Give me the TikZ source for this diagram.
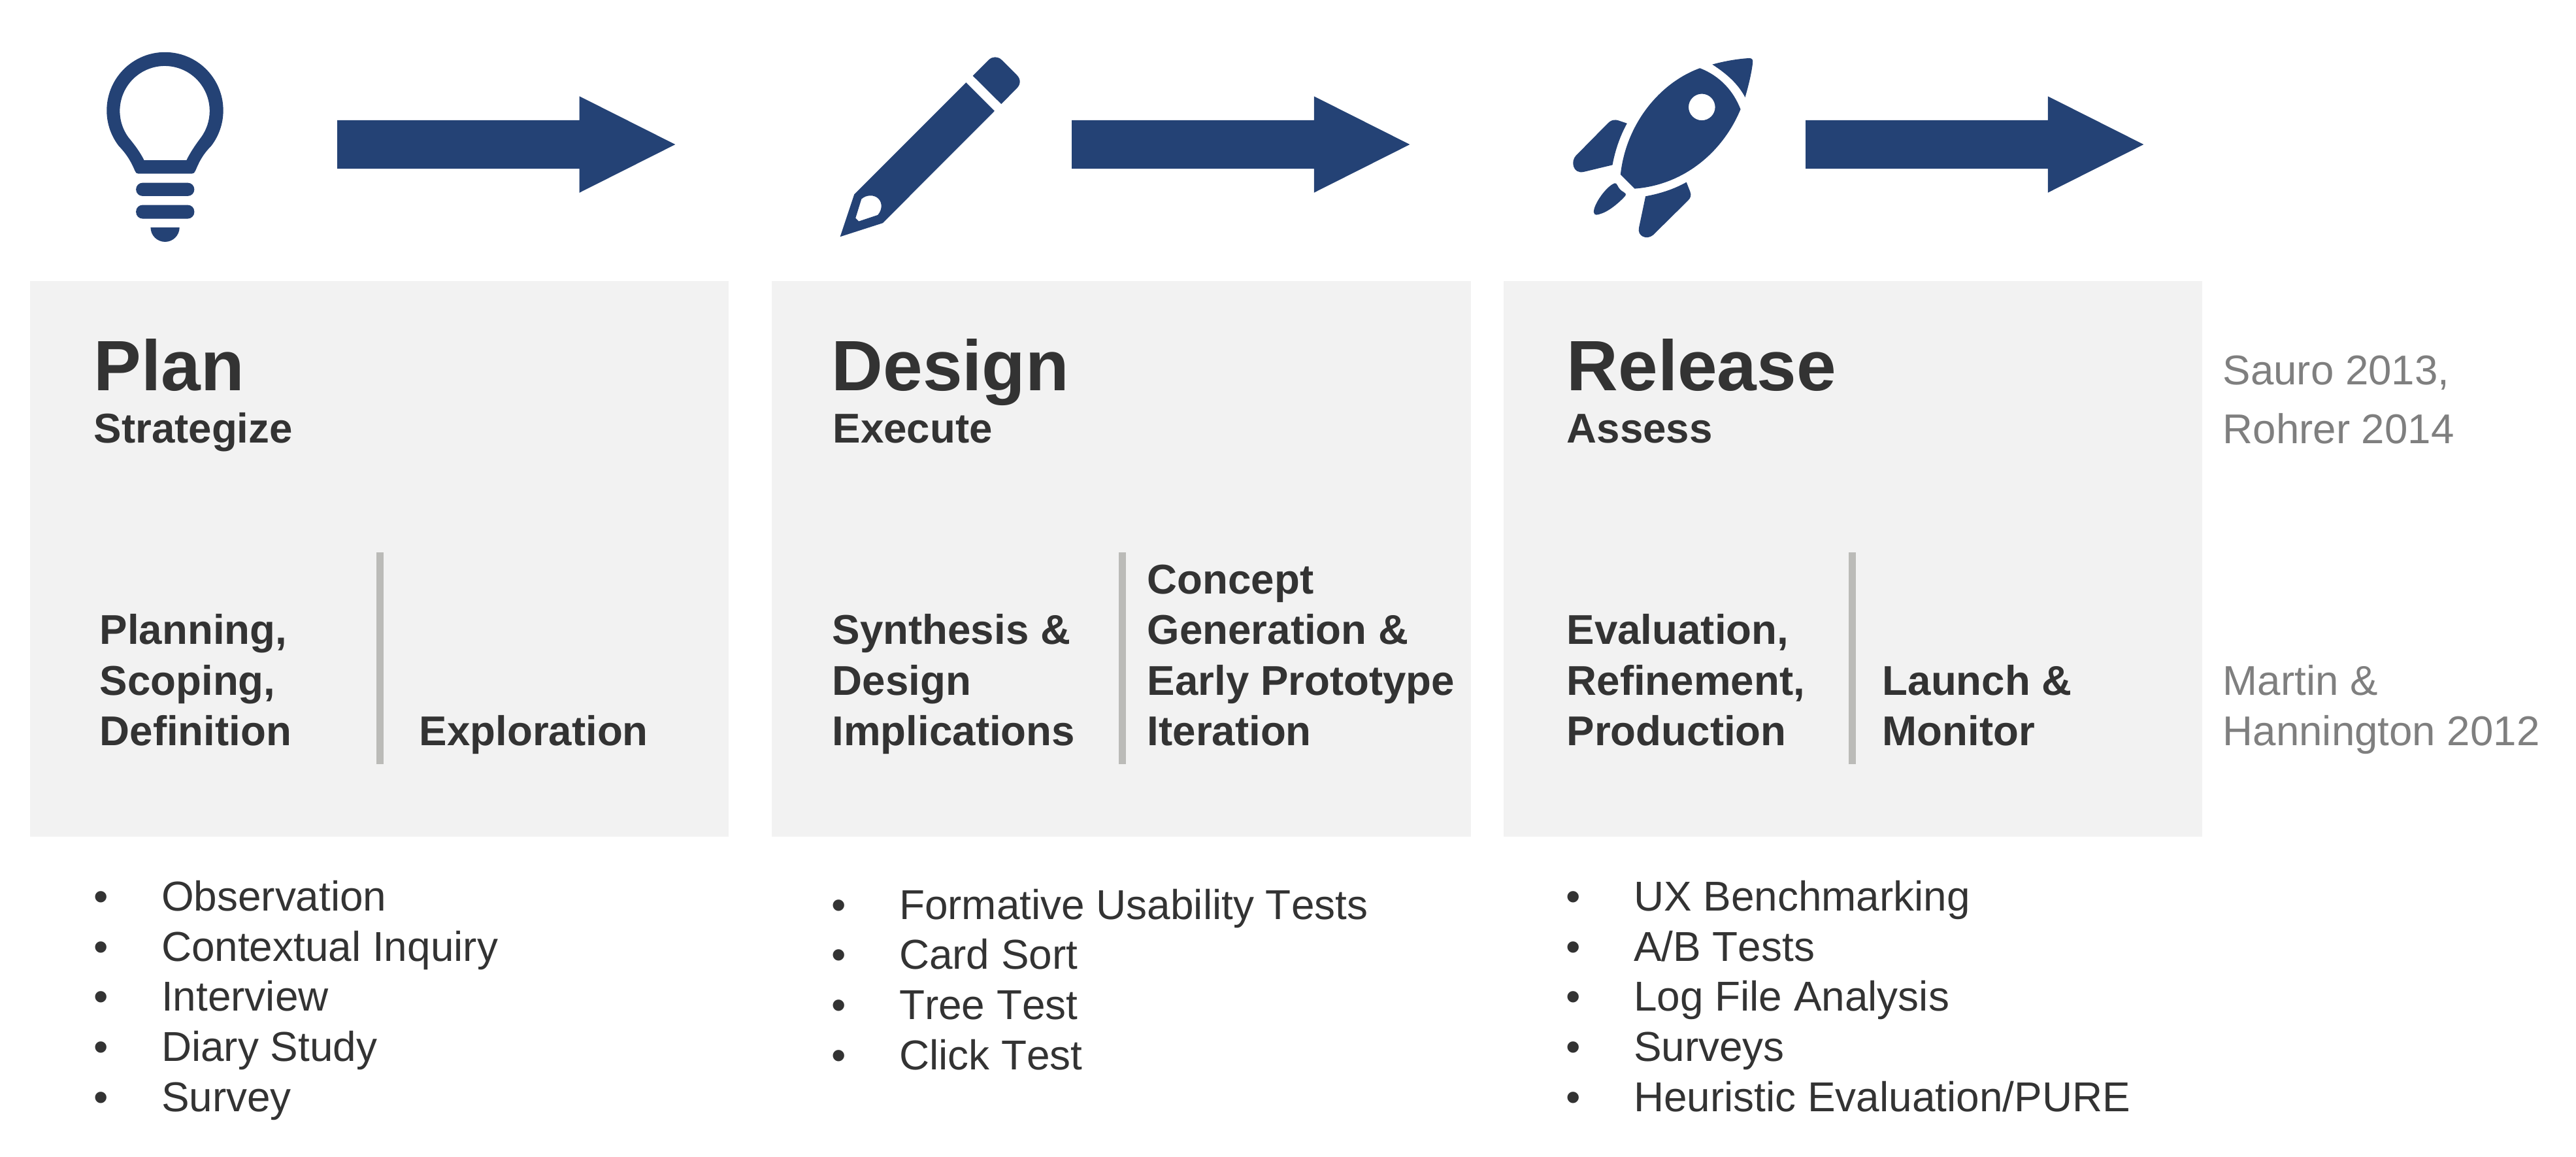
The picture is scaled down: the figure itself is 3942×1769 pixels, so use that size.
\documentclass[tikz,border=0pt]{standalone}
\usepackage{fontspec}
\setmainfont[Kerning=Off]{Liberation Sans}
\usepackage{tikz}
\usetikzlibrary{positioning,shapes.arrows}
\definecolor{navy}{HTML}{244275}
\definecolor{panel}{HTML}{F2F2F2}
\definecolor{rule}{HTML}{BBBBB8}
\definecolor{ink}{HTML}{333333}
\definecolor{cite}{HTML}{7F7F7F}
\newcommand{\bul}{\makebox[29.4pt][l]{•}}
\tikzset{
  phase/.style   = {fill=panel, inner sep=0pt, outer sep=0pt, minimum width=10.69cm,
                    minimum height=8.49cm},
  flow/.style    = {shape=single arrow, fill=navy, inner sep=0pt, outer sep=0pt, minimum height=5.17cm,
                    minimum width=1.46cm, single arrow head extend=0.365cm,
                    single arrow tip angle=53.4, text height=0.73cm},
  divider/.style = {fill=rule, inner sep=0pt, outer sep=0pt, minimum width=0.105cm,
                    minimum height=3.24cm},
  title/.style   = {anchor=base west, inner sep=0pt, text=ink, font=\fontsize{31}{36}\selectfont\bfseries},
  sub/.style     = {anchor=base west, inner sep=0pt, text=ink, align=left,
                    font=\fontsize{18.1}{21.9}\selectfont\bfseries},
  items/.style   = {anchor=base west, inner sep=0pt, text=ink, align=left,
                    font=\fontsize{18.17}{21.8}\selectfont},
  source/.style  = {anchor=base west, inner sep=0pt, text=cite, align=left,
                    font=\fontsize{18.1}{21.9}\selectfont},
  icon/.style    = {fill=navy, even odd rule},
  trace/.style   = {x=0.003333cm, y=-0.003333cm},
}
\begin{document}
\begin{tikzpicture}[x=0.01cm,y=-0.01cm]
  \useasboundingbox (0,0) rectangle (3942,1769);
  % panels
  \node[phase, anchor=north west] (plan) at (45.5,430) {};
  \node[phase, right=0.66cm of plan] (design) {};
  \node[phase, right=0.5cm of design] (release) {};
  % arrows
  \node[flow, anchor=west] (flowa) at (516,221) {};
  \node[flow, anchor=west] (flowb) at (1640,221) {};
  \node[flow, anchor=west] (flowc) at (2763,221) {};
  % bulb
  \begin{scope}[shift={(100,40)},trace]
    \fill[icon] (245,550) arc[start angle=142.7, end angle=397.3, radius=268]
      .. controls (630,592) and (615,625) .. (598,665) .. controls (594,674) and (590,678) .. (582,678)
      -- (335,678) .. controls (327,678) and (324,674) .. (320,665) .. controls (303,625) and (285,592) .. cycle
      (290,511) arc[start angle=144, end angle=396, radius=206.5]
      .. controls (595,550) and (575,580) .. (557,616) -- (362,616) .. controls (344,580) and (322,550) .. cycle;
    \fill[icon, rounded corners=0.1cm] (325,720) rectangle (593,781);
    \fill[icon, rounded corners=0.1cm] (325,822) rectangle (593,885);
    \fill[icon] (392,925) arc[start angle=180, end angle=0, radius=66.5] -- cycle;
  \end{scope}
  % pencil
  \begin{scope}[shift={(1250,60)},trace]
    \fill[icon] (686,199) -- (817,330) -- (303,845) -- (107,908) -- (172,713) -- cycle
      (205,735) .. controls (225,715) and (265,712) .. (285,735) .. controls (302,755) and (300,785) .. (280,808)
      -- (193,837) -- (178,822) -- cycle;
    \fill[icon] (717,168) -- (790,95) .. controls (808,78) and (832,78) .. (850,95) -- (920,165)
      .. controls (938,183) and (938,207) .. (920,225) -- (848,298) -- cycle;
  \end{scope}
  % rocket
  \begin{scope}[shift={(2370,60)},trace]
    \fill[icon] (695,133) .. controls (790,170) and (850,240) .. (882,322)
      .. controls (800,520) and (620,670) .. (395,687) -- (330,622)
      .. controls (355,390) and (510,200) .. (695,133)
      (765,312) arc[start angle=0, end angle=360, radius=61];
    \fill[icon] (752,116) .. controls (810,100) and (870,90) .. (922,87) .. controls (935,87) and (940,95) .. (938,108)
      .. controls (932,160) and (918,215) .. (903,267) .. controls (870,205) and (820,160) .. cycle;
    \fill[icon] (360,387) -- (325,375) .. controls (300,366) and (285,372) .. (270,388) -- (125,535)
      .. controls (100,560) and (110,620) .. (160,610) -- (293,578) .. controls (305,510) and (330,440) .. cycle;
    \fill[icon] (633,657) -- (650,700) .. controls (657,718) and (652,730) .. (640,742) -- (480,900)
      .. controls (450,925) and (405,905) .. (415,865) -- (445,722) .. controls (510,710) and (575,690) .. cycle;
    \fill[icon] (303,662) .. controls (265,675) and (205,760) .. (207,795) .. controls (209,812) and (225,808) .. (240,802)
      .. controls (280,790) and (330,745) .. (352,720) .. controls (357,712) and (352,706) .. (345,703)
      .. controls (330,695) and (322,685) .. (316,672) .. controls (313,664) and (308,661) .. cycle;
  \end{scope}
  % plan panel
  \node[title] (plant) at (143,597) {Plan};
  \node[sub] (plans) at (143,677) {Strategize};
  \node[divider, anchor=north west] (plandiv) at (576,845) {};
  \node[sub] (plana) at (152,1140) {Planning,\\Scoping,\\Definition};
  \node[sub] (planb) at (641,1140) {Exploration};
  % design panel
  \node[title] (designt) at (1272,597) {Design};
  \node[sub] (designs) at (1274,677) {Execute};
  \node[divider, anchor=north west] (designdiv) at (1712,845) {};
  \node[sub] (designa) at (1273,1140) {Synthesis \&\\Design\\Implications};
  \node[sub] (designb) at (1755,1140) {Concept\\Generation \&\\Early Prototype\\Iteration};
  % release panel
  \node[title] (releaset) at (2397,597) {Release};
  \node[sub] (releases) at (2397,677) {Assess};
  \node[divider, anchor=north west] (releasediv) at (2829,845) {};
  \node[sub] (releasea) at (2397,1140) {Evaluation,\\Refinement,\\Production};
  \node[sub] (releaseb) at (2880,1140) {Launch \&\\Monitor};
  % methods
  \node[items] (planm) at (143,1700) {\bul Observation\\\bul Contextual Inquiry\\\bul Interview\\\bul Diary Study\\\bul Survey};
  \node[items] (designm) at (1272,1636) {\bul Formative Usability Tests\\\bul Card Sort\\\bul Tree Test\\\bul Click Test};
  \node[items] (releasem) at (2396,1700) {\bul UX Benchmarking\\\bul A/B Tests\\\bul Log File Analysis\\\bul Surveys\\\bul Heuristic Evaluation/PURE};
  % sources
  \node[source] (saurosrc) at (3401,588) {Sauro 2013,};
  \node[source] (rohrersrc) at (3401,678) {Rohrer 2014};
  \node[source] (martinsrc) at (3401,1140) {Martin \&\\Hannington 2012};
\end{tikzpicture}
\end{document}
